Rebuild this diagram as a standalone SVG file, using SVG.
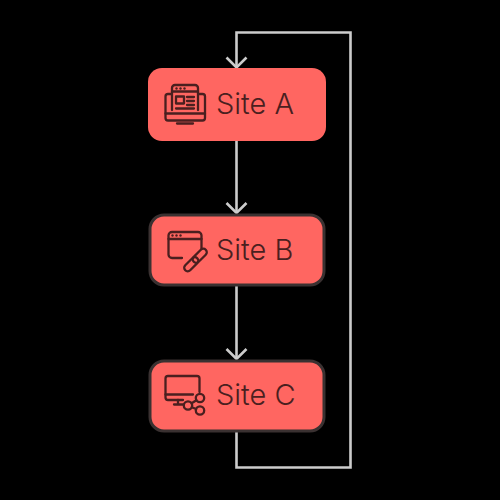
<svg xmlns="http://www.w3.org/2000/svg" width="500" height="500" viewBox="0 0 500 500">
<defs>
<marker id="arrow" markerUnits="userSpaceOnUse" markerWidth="24" markerHeight="24" refX="20" refY="12" orient="auto" viewBox="0 0 24 24"><path d="M10 2 L20 12 L10 22" fill="none" stroke="#cccccc" stroke-width="2.6"/></marker>
</defs>
<style>
.conn{fill:none;stroke:#cccccc;stroke-width:2.6}
.box{fill:#ff6661}
.boxb{fill:#ff6661;stroke:#3a3131;stroke-width:3}
.lbl{font-family:"Inter","Liberation Sans",sans-serif;font-size:29px;font-weight:300;fill:#4a1f1f}
.ic{fill:none;stroke:#4a1f1f;stroke-width:2.300;stroke-linejoin:round;stroke-linecap:round}
.icf{fill:#4a1f1f}
</style>
<rect width="500" height="500" fill="#000"/>
<g id="connectors">
<path class="conn" d="M236.500 141V213" marker-end="url(#arrow)"/>
<path class="conn" d="M236.500 285V359" marker-end="url(#arrow)"/>
<path class="conn" d="M236.500 431V467.500H350.500V32.500H236.500V67.500" marker-end="url(#arrow)"/>
</g>
<g id="site-a">
<rect class="box" x="148" y="68" width="178" height="73" rx="14"/>
<g class="ic">
<path d="M172 110V88a3 3 0 0 1 3-3h20a3 3 0 0 1 3 3V110"/>
<path d="M172 91.500H198"/>
<path d="M172 94H168a2.500 2.500 0 0 0-2.500 2.500V118a2.500 2.500 0 0 0 2.500 2.500H202.500a2.500 2.500 0 0 0 2.500-2.500V96.500A2.500 2.500 0 0 0 202.500 94H198"/>
<path d="M165.500 113.500H205"/>
<path d="M177 123.500H193"/>
<rect x="176" y="96.500" width="8" height="7"/>
<path d="M187 97H194M187 101H194M187 105H194M176 108.500H194"/>
</g>
<g class="icf"><circle cx="176.500" cy="88.500" r="1.200"/><circle cx="180.500" cy="88.500" r="1.200"/><circle cx="184.500" cy="88.500" r="1.200"/></g>
<text class="lbl" x="216" y="114">Site A</text>
</g>
<g id="site-b">
<rect class="boxb" x="150" y="215" width="174" height="70" rx="14"/>
<g class="ic">
<path d="M182 258H172a3.500 3.500 0 0 1-3.500-3.500V235.500A3.500 3.500 0 0 1 172 232H198a3.500 3.500 0 0 1 3.500 3.500V249"/>
<path d="M168.500 239H201.500"/>
<g transform="rotate(-45 195.500 260)">
<rect x="181" y="256.500" width="17" height="7" rx="3.500"/>
<rect x="193" y="256.500" width="17" height="7" rx="3.500"/>
</g>
</g>
<g class="icf"><circle cx="172.500" cy="235.500" r="1.200"/><circle cx="176.500" cy="235.500" r="1.200"/><circle cx="180.500" cy="235.500" r="1.200"/></g>
<text class="lbl" x="216" y="259.500">Site B</text>
</g>
<g id="site-c">
<rect class="boxb" x="150" y="361" width="174" height="70" rx="14"/>
<g class="ic">
<path d="M183 400H168a2.500 2.500 0 0 1-2.500-2.500V378.500a2.500 2.500 0 0 1 2.500-2.500H197a2.500 2.500 0 0 1 2.500 2.500V392"/>
<path d="M165.500 394.500H193"/>
<path d="M178 400V404M174 404.500H183"/>
<circle cx="188" cy="405.500" r="4.200"/>
<circle cx="200" cy="398" r="4.200"/>
<circle cx="200" cy="410.500" r="4.200"/>
<path d="M191.600 403.300L196.400 400.200M191.800 407.200L196.200 409"/>
</g>
<text class="lbl" x="216" y="405">Site C</text>
</g>
</svg>
